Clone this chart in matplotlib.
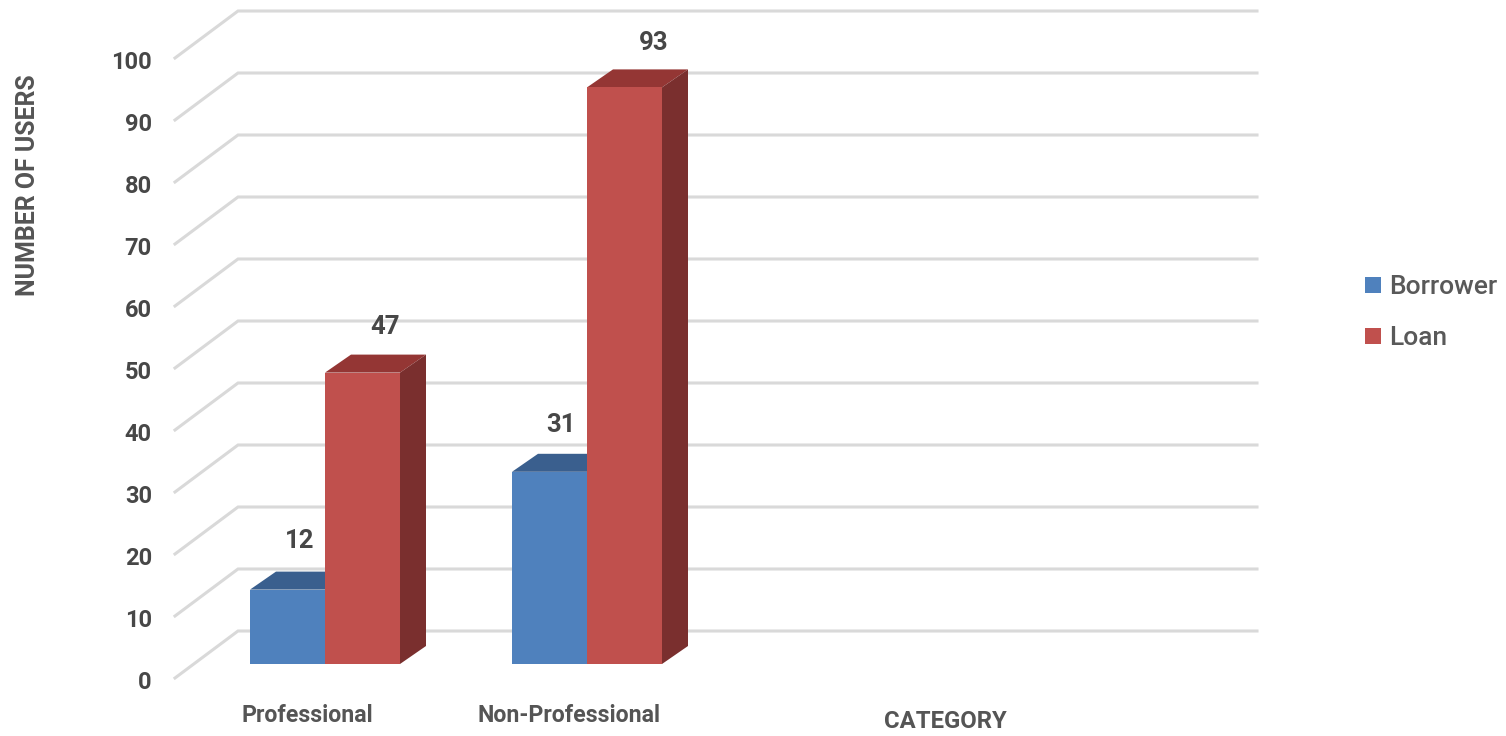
import matplotlib
matplotlib.use('Agg')
import numpy as np
import matplotlib.pyplot as plt
from matplotlib.patches import Polygon

categories = ['Professional', 'Non-Professional']
borrower = [12, 31]
loan = [47, 93]
ticks = list(range(0, 101, 10))

plt.rcParams['font.family'] = ['Roboto', 'DejaVu Sans']
TEXT = '#474747'
TEXT2 = '#555555'

# pixel scale of the picture: one category is 262 px, ten users are 62 px
W, H = 1506, 736
CAT = 262.0
UNIT = 6.2
X0, Y0 = 325.0, 664.0


def px(v):
    return (v - X0) / CAT


def py(v):
    return (Y0 - v) / UNIT


fig = plt.figure(figsize=(W / 100, H / 100), dpi=100)
ax = fig.add_axes([0, 0, 1, 1])
ax.set_xlim(px(0), px(W))
ax.set_ylim(py(H), py(0))
ax.axis('off')

# gridlines: front edge up to the back wall, then along the wall
floor = py(678)
wall_dx = 63 / CAT
wall_dy = 47 / UNIT
for t in ticks:
    y = t + floor
    ax.plot([px(175), px(175) + wall_dx, px(1257)], [y, y + wall_dy, y + wall_dy],
            color='#d9d9d9', lw=2.2, solid_joinstyle='miter', zorder=1)
    ax.text(px(152), y - 0.7, str(t), ha='right', va='center', fontsize=17,
            fontweight='bold', color=TEXT)

bar_w = 75 / CAT
dx = 26 / CAT
dy = 18 / UNIT


def bar3d(x, h, face, top, side, z):
    # x is the left edge of the front face
    ax.bar(x, h, bar_w, align='edge', color=face, zorder=z + 0.2)
    ax.add_patch(Polygon([(x, h), (x + dx, h + dy), (x + bar_w + dx, h + dy), (x + bar_w, h)],
                         color=top, lw=0, zorder=z))
    ax.add_patch(Polygon([(x + bar_w, 0), (x + bar_w + dx, dy), (x + bar_w + dx, h + dy), (x + bar_w, h)],
                         color=side, lw=0, zorder=z))


# hand placed label offsets in px, right and up from the bar top centre
nudge_b = [(12, 49), (12, 47)]
nudge_l = [(23, 46), (29, 44)]
xs = np.arange(len(categories))
for i in xs:
    bar3d(i - bar_w, borrower[i], '#4f81bd', '#3a5f8e', '#2f4e74', 2)
    bar3d(i, loan[i], '#c0504d', '#943634', '#7a2f2e', 3)
    ax.text(i - bar_w / 2 + nudge_b[i][0] / CAT, borrower[i] + nudge_b[i][1] / UNIT, str(borrower[i]),
            ha='center', va='center', fontsize=18.5, fontweight='bold', color=TEXT)
    ax.text(i + bar_w / 2 + nudge_l[i][0] / CAT, loan[i] + nudge_l[i][1] / UNIT, str(loan[i]),
            ha='center', va='center', fontsize=18.5, fontweight='bold', color=TEXT)
    ax.text(i - 18 / CAT, py(716), categories[i], ha='center', va='center', fontsize=16.7,
            fontweight='bold', color=TEXT2)

ax.text(px(945), py(721), 'CATEGORY', ha='center', va='center', fontsize=17.2,
        fontweight='bold', color=TEXT2)
ax.text(px(28), py(185), 'NUMBER OF USERS', ha='center', va='center', rotation=90,
        fontsize=17.9, fontweight='bold', color=TEXT2)

# legend
for y, c, name in [(285, '#4f81bd', 'Borrower'), (336, '#c0504d', 'Loan')]:
    ax.add_patch(Polygon([(px(1365), py(y - 8)), (px(1381), py(y - 8)), (px(1381), py(y + 8)), (px(1365), py(y + 8))],
                         color=c, lw=0))
    ax.text(px(1389), py(y + 2), name, ha='left', va='center', fontsize=19, fontweight='medium', color='#595959')

fig.savefig('out.png', dpi=100)
